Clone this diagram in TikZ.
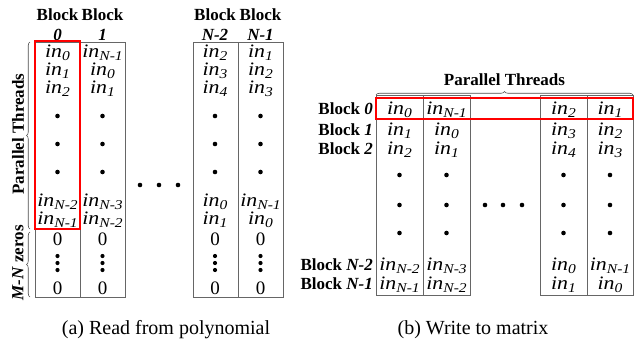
\documentclass[tikz,border=0pt]{standalone}
\usepackage{fontspec}
\setmainfont{Liberation Serif}
\newfontfamily\widefont[FakeStretch=1.15]{Liberation Serif}
\usetikzlibrary{decorations.pathreplacing}

% element "in" with an italic subscript index
\newcommand\inx[1]{{\widefont\itshape in\kern0.2pt\raisebox{-0.2em}{\fontsize{13.5}{13.5}\selectfont #1}}}

\tikzset{
  cell/.style={anchor=base,inner sep=0pt,font=\fontsize{19}{19}\selectfont},
  zero/.style={anchor=base,inner sep=0pt,font=\fontsize{19}{19}\selectfont},
  lbl/.style={anchor=base,inner sep=0pt,font=\fontsize{17}{17}\selectfont\bfseries},
  rowlbl/.style={anchor=base east,inner sep=0pt,font=\fontsize{17}{17}\selectfont\bfseries},
  sidelbl/.style={rotate=90,inner sep=0pt,font=\fontsize{17}{17}\selectfont\bfseries},
  captxt/.style={anchor=base,inner sep=0pt,font=\fontsize{20}{20}\selectfont},
  colbox/.style={draw=black!60,line width=0.8pt},
  hl/.style={draw=red,line width=1.6pt},
  dotmark/.style={circle,fill=black,inner sep=0pt,minimum size=4.6pt},
  smalldot/.style={circle,fill=black,inner sep=0pt,minimum size=4.2pt},
  brc/.style={draw=black!70,line width=0.6pt,decorate,decoration={brace,amplitude=3.5pt}},
}

\begin{document}
\begin{tikzpicture}[x=1pt,y=-1pt]
\useasboundingbox (0,0) rectangle (642,348);

% ---------------- (a) read from polynomial ----------------
\draw[colbox] (35,42) rectangle (125,297);
\draw[colbox] (80,42) -- (80,297);
\draw[colbox] (193,42) rectangle (283,297);
\draw[colbox] (238,42) -- (238,297);

\foreach \x/\h/\a/\b/\c/\d/\e [count=\i] in
  {57.5/0/0/1/2/N-2/N-1, 102.5/1/N-1/0/1/N-3/N-2,
   215/N-2/2/3/4/0/1, 260.5/N-1/1/2/3/N-1/0}{
  \node[lbl] (ablk\i) at (\x,20) {Block};
  \node[lbl] (aidx\i) at (\x,40) {\textit{\h}};
  \node[cell] (a\i r1) at (\x,57) {\inx{\a}};
  \node[cell] (a\i r2) at (\x,75) {\inx{\b}};
  \node[cell] (a\i r3) at (\x,93) {\inx{\c}};
  \node[dotmark] (a\i d1) at (\x,116) {};
  \node[dotmark] (a\i d2) at (\x,144) {};
  \node[dotmark] (a\i d3) at (\x,172) {};
  \node[cell] (a\i r4) at (\x,206) {\inx{\d}};
  \node[cell] (a\i r5) at (\x,224) {\inx{\e}};
  \node[zero] (a\i z1) at (\x,245) {0};
  \node[smalldot] (a\i v1) at (\x,256) {};
  \node[smalldot] (a\i v2) at (\x,263) {};
  \node[smalldot] (a\i v3) at (\x,270) {};
  \node[zero] (a\i z2) at (\x,294) {0};
}
\foreach \x [count=\i] in {140,159,178}
  \node[dotmark] (ah\i) at (\x,185) {};

\draw[hl] (35,41) rectangle (80,229);

\draw[brc] (30,229) -- (30,42);
\draw[brc] (30,297) -- (30,232);
\node[sidelbl] (athreads) at (18,134) {Parallel Threads};
\node[sidelbl] (azeros) at (18,263) {\textit{M-N} zeros};

\node[captxt] (capa) at (166,334) {(a) Read from polynomial};

% ---------------- (b) write to matrix ----------------
\draw[colbox] (376,95) rectangle (470,295);
\draw[colbox] (423,95) -- (423,295);
\draw[colbox] (540,95) rectangle (633,295);
\draw[colbox] (587,95) -- (587,295);

\foreach \x/\a/\b/\c/\d/\e [count=\i] in
  {399.5/0/1/2/N-2/N-1, 446.5/N-1/0/1/N-3/N-2,
   563.5/2/3/4/0/1, 610/1/2/3/N-1/0}{
  \node[cell] (b\i r1) at (\x,114) {\inx{\a}};
  \node[cell] (b\i r2) at (\x,135) {\inx{\b}};
  \node[cell] (b\i r3) at (\x,154) {\inx{\c}};
  \node[dotmark] (b\i d1) at (\x,175) {};
  \node[dotmark] (b\i d2) at (\x,205) {};
  \node[dotmark] (b\i d3) at (\x,233) {};
  \node[cell] (b\i r4) at (\x,270) {\inx{\d}};
  \node[cell] (b\i r5) at (\x,289) {\inx{\e}};
}
\foreach \x [count=\i] in {485,503,522}
  \node[dotmark] (bh\i) at (\x,205) {};

\foreach \y/\t [count=\i] in {114/0, 135/1, 154/2, 270/N-2, 289/N-1}
  \node[rowlbl] (brow\i) at (373,\y) {Block \textit{\t}};

\draw[hl] (376,98) rectangle (633,119);

\draw[brc] (376,95) -- (633,95);
\node[lbl] (bthreads) at (504.5,85) {Parallel Threads};

\node[captxt] (capb) at (473,334) {(b) Write to matrix};
\end{tikzpicture}
\end{document}
